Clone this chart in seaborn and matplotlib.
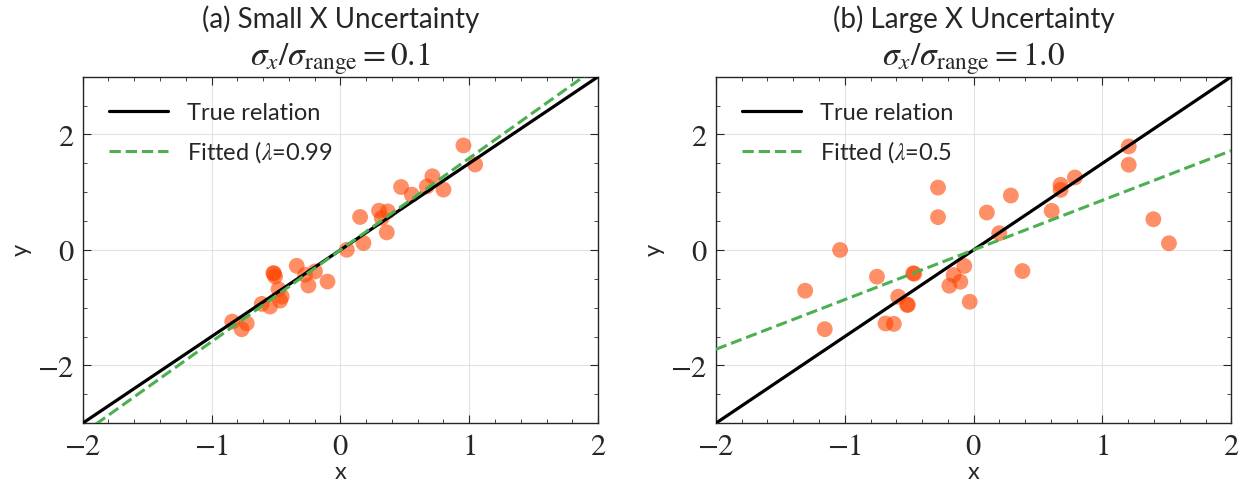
import numpy as np
import pandas as pd
import matplotlib
matplotlib.use("Agg")
import matplotlib.pyplot as plt
from matplotlib.ticker import MultipleLocator, FixedLocator, FixedFormatter
import seaborn as sns

# Observations with small x uncertainty
x_small = [0.955, 1.046, 0.714, 0.671, 0.800, 0.471, 0.554, 0.153, 0.300, 0.368,
           0.321, 0.360, 0.179, 0.050, -0.339, -0.520, -0.515, -0.507, -0.274, -0.197,
           -0.248, -0.100, -0.480, -0.455, -0.468, -0.610, -0.546, -0.839, -0.766, -0.727]
y_small = [1.81, 1.48, 1.276, 1.10, 1.045, 1.09, 0.958, 0.571, 0.68, 0.668,
           0.554, 0.304, 0.12, 0.003, -0.274, -0.40, -0.41, -0.46, -0.43, -0.373,
           -0.616, -0.547, -0.68, -0.807, -0.877, -0.934, -0.98, -1.24, -1.373, -1.27]

# Observations with large x uncertainty
x_large = [-0.276, -0.276, -1.036, -1.307, -1.155, -0.750, -0.469, -0.460, -0.585, -0.516,
           -0.510, -0.683, -0.619, -0.188, -0.155, -0.103, -0.072, -0.030, 0.103, 0.289,
           0.199, 0.379, 0.606, 0.675, 0.675, 0.786, 1.204, 1.204, 1.395, 1.516]
y_large = [1.08, 0.568, 0.0, -0.706, -1.372, -0.463, -0.405, -0.41, -0.81, -0.95,
           -0.95, -1.273, -1.28, -0.619, -0.434, -0.55, -0.278, -0.897, 0.648, 0.943,
           0.29, -0.365, 0.677, 1.128, 1.04, 1.255, 1.793, 1.476, 0.532, 0.116]

# Line parameters: true slope and fitted slopes
true_slope = 1.5
fit_slopes = [1.59, 0.86]
lambdas = ["0.99", "0.5"]
ratios = ["0.1", "1.0"]
panel_titles = ["(a) Small X Uncertainty", "(b) Large X Uncertainty"]
x_ticks = [-2, -1, 0, 1, 2]
y_ticks = [-2, 0, 2]

sns.set_style("ticks")
plt.rcParams["font.family"] = ["Lato", "DejaVu Sans"]
plt.rcParams["mathtext.fontset"] = "stix"
plt.rcParams.update({
    "xtick.direction": "in", "ytick.direction": "in",
    "xtick.top": True, "ytick.right": True,
    "xtick.major.size": 6, "ytick.major.size": 6,
    "xtick.minor.size": 3, "ytick.minor.size": 3,
    "axes.linewidth": 1.0,
})

fig = plt.figure(figsize=(12.45, 4.87), dpi=100)
left_edges = [0.0664, 0.575]
width = 0.414
bottom, top = 0.131, 0.8425

datasets = [(x_small, y_small), (x_large, y_large)]
line_x = np.array([-2.0, 2.0])

for i, (xs, ys) in enumerate(datasets):
    ax = fig.add_axes([left_edges[i], bottom, width, top - bottom])
    df = pd.DataFrame({"x": xs, "y": ys})
    sns.scatterplot(data=df, x="x", y="y", ax=ax, color="orangered", alpha=0.6,
                    s=130, edgecolor="none", zorder=2)
    lines = pd.DataFrame({"x": line_x, "true": true_slope * line_x,
                          "fit": fit_slopes[i] * line_x})
    sns.lineplot(data=lines, x="x", y="true", ax=ax, color="black", lw=2.3,
                 label="True relation", zorder=3)
    sns.lineplot(data=lines, x="x", y="fit", ax=ax, color="#4CAF50", lw=2.2,
                 linestyle="--", label=r"Fitted ($\lambda$=" + lambdas[i], zorder=4)

    ax.set_xlim(-2, 2)
    ax.set_ylim(-3, 3)
    ax.xaxis.set_major_locator(FixedLocator(x_ticks))
    ax.yaxis.set_major_locator(FixedLocator(y_ticks))
    ax.xaxis.set_major_formatter(FixedFormatter([rf"${v}$" for v in x_ticks]))
    ax.yaxis.set_major_formatter(FixedFormatter([rf"${v}$" for v in y_ticks]))
    ax.xaxis.set_minor_locator(MultipleLocator(0.2))
    ax.yaxis.set_minor_locator(MultipleLocator(0.5))
    ax.tick_params(axis="both", which="major", labelsize=22, pad=6)
    ax.tick_params(which="both", top=True, right=True, direction="in")
    ax.grid(True, which="major", color="#dddddd", lw=0.8, alpha=0.8)
    ax.set_axisbelow(True)
    ax.set_xlabel("x", fontsize=17, labelpad=2)
    ax.set_ylabel("y", fontsize=17, labelpad=4)
    # two-line heading: panel name above, noise ratio below
    ax.set_title(r"$\sigma_x/\sigma_{\mathrm{range}} = " + ratios[i] + "$",
                 fontsize=24, pad=2)
    ax.text(0.5, 1.125, panel_titles[i], transform=ax.transAxes,
            ha="center", va="bottom", fontsize=20)
    ax.legend(loc="upper left", frameon=False, fontsize=17, handlelength=2.5,
              borderaxespad=0.7, labelspacing=0.65)

fig.savefig("out.png", dpi=100)
